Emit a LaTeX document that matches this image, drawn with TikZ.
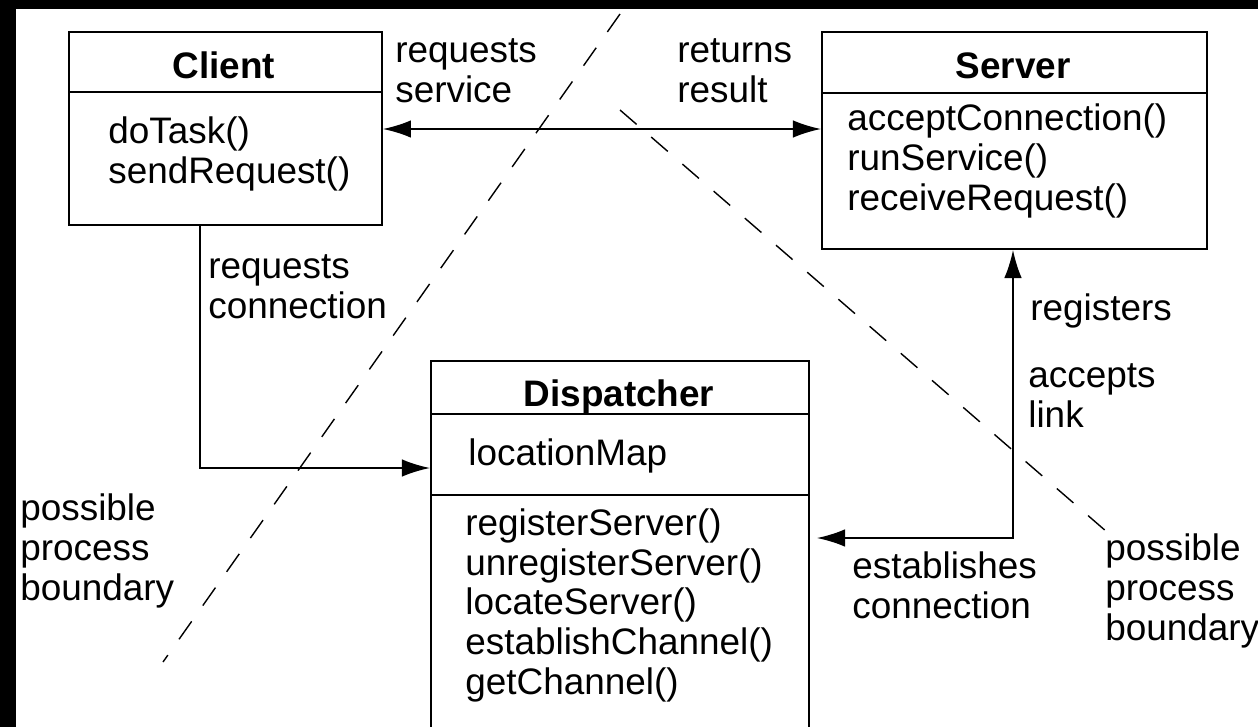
\documentclass[tikz,border=0pt]{standalone}
\usepackage{fontspec}
\setmainfont{Liberation Sans}
\usetikzlibrary{arrows.meta}
\tikzset{
  classbox/.style={draw, rectangle, line width=1.1pt, anchor=north west, inner sep=0pt},
  classname/.style={font=\fontsize{21pt}{22.5pt}\selectfont\bfseries},
  members/.style={align=left, anchor=base west, inner sep=0pt},
  conn/.style={line width=1.1pt},
  tip/.tip={Latex[length=16pt,width=10pt]},
  boundary/.style={line width=0.8pt, dash pattern=on 12.5pt off 11pt}
}
\begin{document}
\begin{tikzpicture}[x=0.02cm, y=-0.02cm, auto,
  every node/.style={font=\fontsize{21pt}{22.5pt}\selectfont}]
\useasboundingbox (0,0) rectangle (1258,727);
\fill[black] (0,0) rectangle (1258,9);
\fill[black] (0,0) rectangle (16,727);

% Client (multi-line texts sit on their last baseline)
\node[classbox, minimum width=6.26cm, minimum height=1.2cm] (clienthead) at (68,31) {};
\node[classbox, minimum width=6.26cm, minimum height=2.66cm] (clientbody) at (68,91) {};
\node[classname, anchor=base] (clientname) at (224,78) {Client};
\node[members] (clientops) at (108,183) {doTask()\\sendRequest()};

% Server
\node[classbox, minimum width=7.7cm, minimum height=1.22cm] (serverhead) at (821,31) {};
\node[classbox, minimum width=7.7cm, minimum height=3.12cm] (serverbody) at (821,92) {};
\node[classname, anchor=base] (servername) at (1013,78) {Server};
\node[members] (serverops) at (847,210) {acceptConnection()\\runService()\\receiveRequest()};

% Dispatcher
\node[classbox, minimum width=7.56cm, minimum height=1.06cm] (disphead) at (430,360) {};
\node[classbox, minimum width=7.56cm, minimum height=1.62cm] (dispattr) at (430,413) {};
\node[classbox, minimum width=7.56cm, minimum height=4.7cm] (dispbody) at (430,494) {};
\node[classname, anchor=base] (dispname) at (619,406) {Dispatcher};
\node[members] (dispmap) at (468,465) {locationMap};
\node[members] (dispops) at (465,694) {registerServer()\\unregisterServer()\\locateServer()\\establishChannel()\\getChannel()};

% connectors
\coordinate (servicey) at (600,129);
\coordinate (conncorner) at (200,468);
\coordinate (regcorner) at (1013,538);
\draw[conn, tip-tip] (clientbody.east |- servicey) -- (serverbody.west |- servicey);
\draw[conn, -tip] (clientbody.south -| conncorner) |- (dispattr.west |- conncorner);
\draw[conn, tip-tip] (serverbody.south -| regcorner) -- (regcorner) -- ([xshift=4pt]dispbody.east |- regcorner);

% labels
\node[members] (reqservice) at (395,102) {requests\\service};
\node[members] (retresult) at (677,102) {returns\\result};
\node[members] (reqconn) at (208,318) {requests\\connection};
\node[members] (registers) at (1030,320) {registers};
\node[members] (accepts) at (1028,427) {accepts\\link};
\node[members] (establishes) at (852,618) {establishes\\connection};

% process boundaries
\coordinate (bndatop) at (620,14);
\coordinate (bndabot) at (163,662);
\coordinate (bndbtop) at (620,110);
\coordinate (bndbbot) at (1107,532);
\draw[boundary] (bndatop) -- (bndabot);
\draw[boundary] (bndbtop) -- (bndbbot);
\node[members] (bndleft) at (20,600) {possible\\process\\boundary};
\node[members] (bndright) at (1105,640) {possible\\process\\boundary};
\end{tikzpicture}
\end{document}
